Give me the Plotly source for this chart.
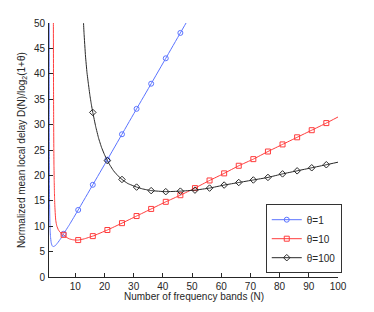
import plotly.graph_objects as go

# --- data ---
n_blue = [1.04, 1.06, 1.08, 1.1, 1.15, 1.2, 1.3, 1.4, 1.5, 1.75, 2, 2.25, 2.5, 2.75, 3, 3.5, 4, 5, 6, 8,
          11, 16, 21, 26, 31, 36, 41, 46, 51]
v_blue = [59.3, 40.6, 31.4, 25.6, 18.2, 14.45, 10.8, 9.0, 8.0, 6.75, 6.25, 6.05, 6.0, 6.03, 6.1, 6.4, 6.75, 7.55, 8.5, 10.3,
          13.2, 18.15, 23.1, 28.1, 33.1, 38.05, 43.05, 48.05, 53.05]

n_red = [2.47, 2.5, 2.55, 2.6, 2.65, 2.7, 2.78, 2.85, 2.92, 3.0, 3.15, 3.3, 3.5, 3.7, 4.2, 4.8, 5.4, 6, 7, 8, 9, 10, 11, 13,
         16, 21, 26, 31, 36, 41, 46, 51, 56, 61, 66, 71, 76, 81, 86, 91, 96, 100]
v_red = [55, 50, 38, 30, 25.5, 22, 19, 17, 15.3, 14, 12.4, 11.2, 10.5, 10.0, 9.3, 8.8, 8.55, 8.3, 7.8, 7.5, 7.35, 7.27, 7.27, 7.5,
         8.05, 9.25, 10.6, 12.0, 13.4, 14.8, 16.1, 17.5, 19.0, 20.4, 21.9, 23.2, 24.7, 26.1, 27.5, 28.9, 30.3, 31.5]

n_black = [12.5, 12.8, 13, 13.5, 14, 14.5, 15, 15.5, 16, 17, 18, 19, 20, 21, 22, 23, 24, 26, 28, 31, 33, 36, 41, 46,
           51, 56, 61, 66, 71, 76, 81, 86, 91, 96, 100]
v_black = [54, 50.3, 48, 43.5, 40.3, 38.0, 35.8, 34.0, 32.4, 29.6, 27.3, 25.5, 24.1, 22.9, 21.9, 21.0, 20.3, 19.2, 18.4, 17.7, 17.35, 17.0, 16.8, 16.9,
           17.1, 17.5, 18.1, 18.6, 19.1, 19.6, 20.3, 20.9, 21.5, 22.1, 22.6]

marker_n = [6, 11, 16, 21, 26, 31, 36, 41, 46, 51, 56, 61, 66, 71, 76, 81, 86, 91, 96]

x_ticks = [10, 20, 30, 40, 50, 60, 70, 80, 90, 100]
y_ticks = [0, 5, 10, 15, 20, 25, 30, 35, 40, 45, 50]

series = [
    ("θ=1", n_blue, v_blue, "rgb(90,115,255)", "circle-open"),
    ("θ=10", n_red, v_red, "rgb(255,60,60)", "square-open"),
    ("θ=100", n_black, v_black, "rgb(40,40,40)", "diamond-open"),
]

fig = go.Figure()
for name, xs, ys, col, sym in series:
    fig.add_trace(go.Scatter(x=xs, y=ys, mode="lines", showlegend=False,
                             line=dict(color=col, width=1, shape="spline", smoothing=0.3),
                             hoverinfo="skip"))
    mx = [x for x in xs if x in marker_n]
    my = [y for x, y in zip(xs, ys) if x in marker_n]
    fig.add_trace(go.Scatter(x=mx, y=my, mode="markers", showlegend=False, cliponaxis=True,
                             marker=dict(symbol=sym, size=5, color=col, line=dict(width=1, color=col))))
    fig.add_trace(go.Scatter(x=[None], y=[None], mode="lines+markers", name=name,
                             line=dict(color=col, width=1),
                             marker=dict(symbol=sym, size=5, color=col, line=dict(width=1, color=col))))

fam = "Liberation Sans, Arial, sans-serif"
font = dict(family=fam, size=10, color="#262626")
fig.update_layout(
    width=374, height=312,
    margin=dict(l=49, r=36, t=23, b=35),
    paper_bgcolor="white", plot_bgcolor="white",
    font=font,
    showlegend=True,
    legend=dict(x=1.013, xanchor="right", y=0.015, yanchor="bottom",
                bordercolor="#333333", borderwidth=1, bgcolor="white",
                font=dict(family=fam, size=10, color="#262626"),
                itemwidth=30, tracegroupgap=0),
    annotations=[
        dict(text="Normalized mean local delay D(N)/log<sub>2</sub>(1+θ)", xref="paper", yref="paper",
             x=-0.093, y=0.5, xanchor="center", yanchor="middle", textangle=-90, showarrow=False,
             font=dict(family=fam, size=10, color="#262626")),
        dict(text="Number of frequency bands (N)", xref="paper", yref="paper",
             x=0.5, y=-0.077, xanchor="center", yanchor="middle", showarrow=False,
             font=dict(family=fam, size=10, color="#262626")),
    ],
)
fig.update_xaxes(range=[1, 100], tickvals=x_ticks,
                 ticks="inside", ticklen=4, tickcolor="#262626", showline=True, linecolor="#262626",
                 linewidth=1, showgrid=False, zeroline=False, mirror=False, ticklabelstandoff=0)
fig.update_yaxes(range=[0, 50], tickvals=y_ticks,
                 ticks="inside", ticklen=4, tickcolor="#262626", showline=True, linecolor="#262626",
                 linewidth=1, showgrid=False, zeroline=False, mirror=False, ticklabelstandoff=1)

fig.write_html("out.html", config={"displayModeBar": False},
               post_script="document.body.style.margin='0';")
